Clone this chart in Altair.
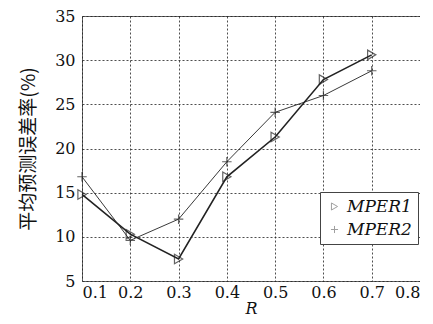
import altair as alt
import pandas as pd

r_values = [0.1, 0.2, 0.3, 0.4, 0.5, 0.6, 0.7]
mper1 = [14.8, 10.3, 7.5, 16.8, 21.3, 27.8, 30.6]
mper2 = [16.8, 9.6, 12.0, 18.5, 24.1, 26.0, 28.8]
series_names = ["MPER1", "MPER2"]
x_ticks = [0.1, 0.2, 0.3, 0.4, 0.5, 0.6, 0.7, 0.8]
y_ticks = [5, 10, 15, 20, 25, 30, 35]

rows = []
for i, r in enumerate(r_values):
    rows.append({"R": r, "v": mper1[i], "s": series_names[0]})
    rows.append({"R": r, "v": mper2[i], "s": series_names[1]})
df = pd.DataFrame(rows)

serif = "'DejaVu Serif', serif"

x = alt.X("R:Q", scale=alt.Scale(domain=[0.1, 0.8], nice=False),
          axis=alt.Axis(values=x_ticks, format=".1f", title="R",
                        titleFontStyle="italic", titleFontWeight="normal",
                        titleFont=serif, titleFontSize=16, labelFont=serif,
                        labelFontSize=16, titlePadding=0, labelPadding=3,
                        labelColor="#111", titleColor="#111"))
y = alt.Y("v:Q", scale=alt.Scale(domain=[5, 35], nice=False),
          axis=alt.Axis(values=y_ticks, title="平均预测误差率(%)",
                        titleFont="Noto Sans CJK SC", titleFontSize=19,
                        titleFontWeight="normal", labelFont=serif,
                        labelFontSize=16, labelPadding=7, titlePadding=16,
                        labelColor="#111", titleColor="#111"))

base = alt.Chart(df)

line1 = base.transform_filter(alt.datum.s == "MPER1").mark_line(
    color="#222", strokeWidth=1.6).encode(x=x, y=y)
line2 = base.transform_filter(alt.datum.s == "MPER2").mark_line(
    color="#222", strokeWidth=0.9).encode(x=x, y=y)

points = base.mark_point(filled=False, color="#222", strokeWidth=1.2).encode(
    x=x, y=y,
    shape=alt.Shape("s:N", scale=alt.Scale(domain=series_names,
                                             range=["triangle-right", "M-1,0H1M0,-1V1"]),
                    legend=alt.Legend(title=None, orient="none", legendX=238, legendY=176,
                                      labelFont=serif, labelFontStyle="italic",
                                      labelFontSize=17, labelColor="#111",
                                      symbolStrokeColor="#777", symbolFillColor="transparent",
                                      symbolSize=50, symbolStrokeWidth=1,
                                      strokeColor="#444", fillColor="white",
                                      padding=6, rowPadding=5)),
    size=alt.value(90),
)

chart = (line1 + line2 + points).properties(
    width=338, height=265,
    padding={"left": 11, "top": 0, "right": 0, "bottom": 0},
).configure_view(
    stroke="#666", strokeWidth=1
).configure_axis(
    grid=True, gridColor="#222", gridDash=[2, 2], gridOpacity=0.8, gridWidth=1,
    domain=False, ticks=False
)

chart.save("out.html", embed_options={"renderer": "svg", "actions": False})
